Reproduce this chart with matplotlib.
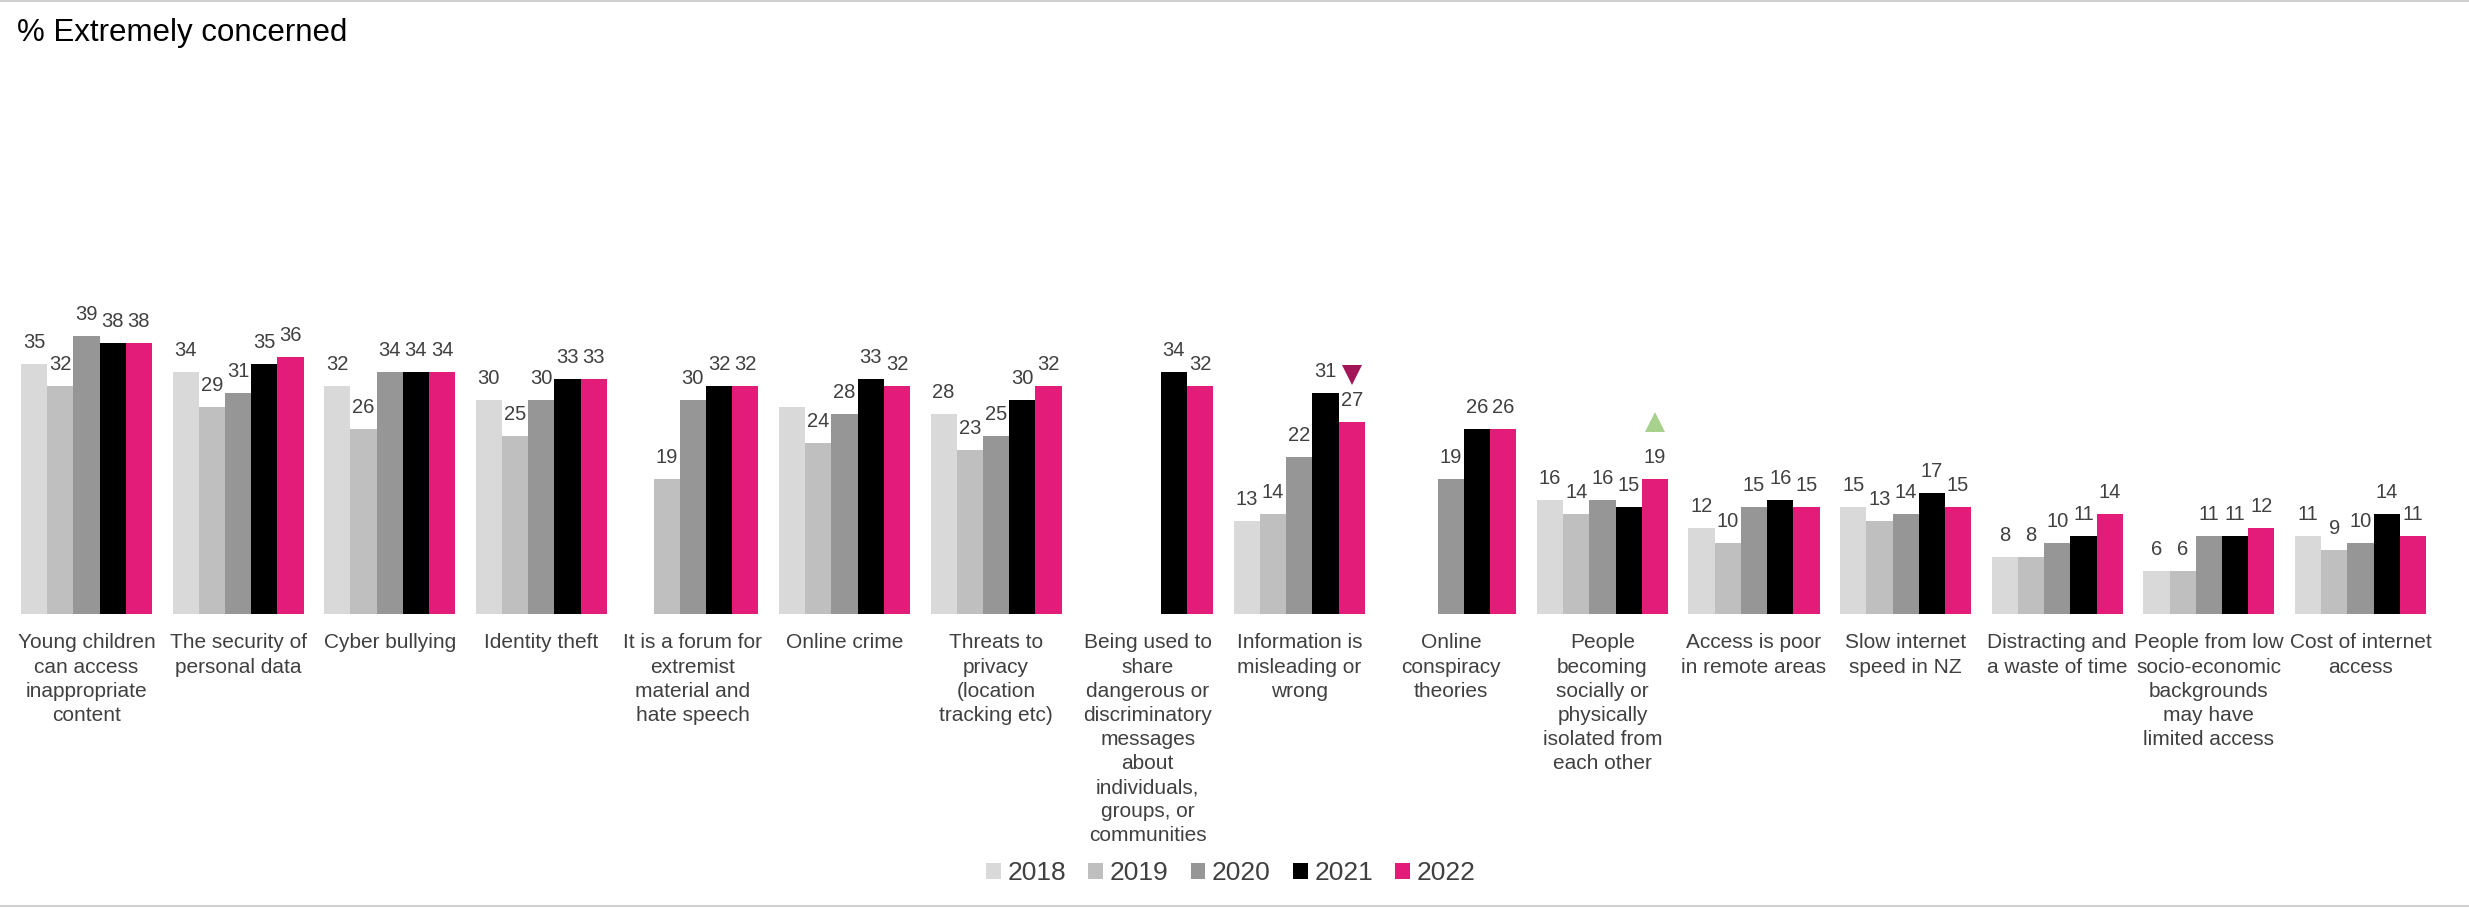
import numpy as np
import matplotlib
matplotlib.use("Agg")
import matplotlib.pyplot as plt
from matplotlib.lines import Line2D

plt.rcParams['font.family'] = ['Liberation Sans', 'DejaVu Sans']

# categories (wrapped as in the original)
categories = [
    "Young children\ncan access\ninappropriate\ncontent",
    "The security of\npersonal data",
    "Cyber bullying",
    "Identity theft",
    "It is a forum for\nextremist\nmaterial and\nhate speech",
    "Online crime",
    "Threats to\nprivacy\n(location\ntracking etc)",
    "Being used to\nshare\ndangerous or\ndiscriminatory\nmessages\nabout\nindividuals,\ngroups, or\ncommunities",
    "Information is\nmisleading or\nwrong",
    "Online\nconspiracy\ntheories",
    "People\nbecoming\nsocially or\nphysically\nisolated from\neach other",
    "Access is poor\nin remote areas",
    "Slow internet\nspeed in NZ",
    "Distracting and\na waste of time",
    "People from low\nsocio-economic\nbackgrounds\nmay have\nlimited access",
    "Cost of internet\naccess",
]

years = ["2018", "2019", "2020", "2021", "2022"]
nan = np.nan
v2018 = [35, 34, 32, 30, nan, 29, 28, nan, 13, nan, 16, 12, 15, 8, 6, 11]
v2019 = [32, 29, 26, 25, 19, 24, 23, nan, 14, nan, 14, 10, 13, 8, 6, 9]
v2020 = [39, 31, 34, 30, 30, 28, 25, nan, 22, 19, 16, 15, 14, 10, 11, 10]
v2021 = [38, 35, 34, 33, 32, 33, 30, 34, 31, 26, 15, 16, 17, 11, 11, 14]
v2022 = [38, 36, 34, 33, 32, 32, 32, 32, 27, 26, 19, 15, 15, 14, 12, 11]
series = [v2018, v2019, v2020, v2021, v2022]

# data labels not shown in the original (series index, category index)
hidden_labels = [(0, 5)]

# significance markers: (category index, down/up)
sig_down = [8]
sig_up = [10]

colors = ["#D9D9D9", "#BFBFBF", "#969696", "#000000", "#E31C79"]
label_color = "#404040"

fig = plt.figure(figsize=(24.69, 9.08), dpi=100)
ax = fig.add_axes([0.00433, 0.3238, 0.9824, 0.5496])

x = np.arange(len(categories))
bw = 0.173
for i, (vals, c) in enumerate(zip(series, colors)):
    pos = x + (i - 2) * bw
    ax.bar(pos, vals, width=bw, color=c, label=years[i], linewidth=0)
    for j, v in enumerate(vals):
        if np.isnan(v) or (i, j) in hidden_labels:
            continue
        ax.annotate(f"{v:.0f}", (pos[j], v), xytext=(0, 11.5), textcoords="offset points",
                    ha="center", va="baseline", fontsize=14.5, color=label_color)

for j in sig_down:
    ax.plot(x[j] + 2 * bw, v2022[j] + 6.5, marker="v", ms=15, color="#A31559", mew=0)
for j in sig_up:
    ax.plot(x[j] + 2 * bw, v2022[j] + 8, marker="^", ms=15, color="#A9D18E", mew=0)

ax.set_xlim(-0.5, len(categories) - 0.5)
ax.set_ylim(0, 70)
ax.set_xticks(x)
ax.set_xticklabels(categories, fontsize=15, color=label_color, linespacing=1.34)
ax.tick_params(axis="x", length=0, pad=14)
ax.set_yticks([])
for s in ax.spines.values():
    s.set_visible(False)

fig.text(0.0069, 0.964, "% Extremely concerned", fontsize=22.5, color="black",
         ha="left", va="center")

fig.legend(loc="center", bbox_to_anchor=(0.4985, 0.0385), ncol=5, frameon=False,
           fontsize=19, labelcolor=label_color, handlelength=0.55, handleheight=0.55,
           handletextpad=0.25, columnspacing=0.85)

# light frame lines at top and bottom
fig.add_artist(Line2D([0, 1], [0.999, 0.999], color="#D0D0D0", lw=1.5))
fig.add_artist(Line2D([0, 1], [0.002, 0.002], color="#D0D0D0", lw=1.5))

fig.savefig("out.png", dpi=100)
